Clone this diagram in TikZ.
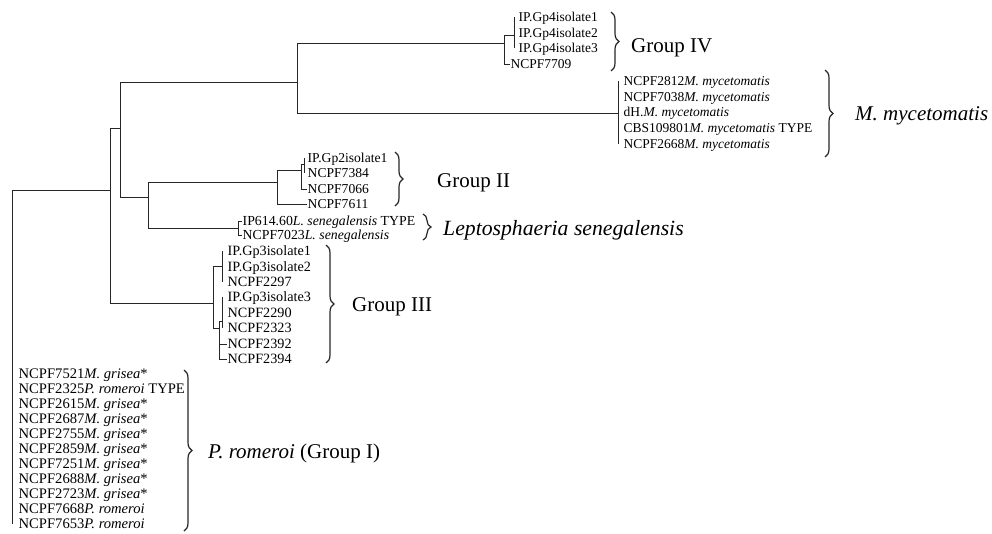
\documentclass[tikz,border=0pt]{standalone}
\usepackage{fontspec}
\setmainfont{Liberation Serif}
\usetikzlibrary{decorations.pathreplacing}
\begin{document}
\begin{tikzpicture}[x=1pt,y=-1pt,
  edge/.style={line width=0.9pt, black!85},
  leaf/.style={anchor=west, inner sep=0.5pt, font=\fontsize{#1}{15}\selectfont, text height=9.4pt, text depth=0pt},
  leaf/.default=14.2,
  grp/.style={anchor=west, inner sep=0pt, font=\fontsize{#1}{24}\selectfont, text height=14pt, text depth=0pt},
  grp/.default=21,
  br/.style={decorate, decoration={brace, amplitude=8pt}, line width=1.2pt, black!85}]
\useasboundingbox (0,0) rectangle (992,533);
% internal nodes
\coordinate (r) at (12,190);
\coordinate (A) at (110,190);
\coordinate (B) at (120,128);
\coordinate (C) at (297,82);
\coordinate (G4) at (504,43);
\coordinate (G4a) at (514,35);
\coordinate (Mm) at (618,113);
\coordinate (D) at (148,197);
\coordinate (E) at (277,182);
\coordinate (F) at (301,170);
\coordinate (F2) at (304,164);
\coordinate (L) at (238,228);
\coordinate (H) at (213,303);
\coordinate (H1) at (222,266);
\coordinate (H2) at (219,328);
\coordinate (H3) at (222,321);
% leaves: Group IV
\node[leaf=13.5] (g4a) at (518,17) {IP.Gp4isolate1};
\node[leaf=13.5] (g4b) at (518,33) {IP.Gp4isolate2};
\node[leaf=13.5] (g4c) at (518,48) {IP.Gp4isolate3};
\node[leaf=13.5] (n7709) at (510,64) {NCPF7709};
% M. mycetomatis
\node[leaf=13.5] (m1) at (623,81) {NCPF2812\textit{M. mycetomatis}};
\node[leaf=13.5] (m2) at (623,97) {NCPF7038\textit{M. mycetomatis}};
\node[leaf=13.5] (m3) at (623,112) {dH.\textit{M. mycetomatis}};
\node[leaf=13.5] (m4) at (623,128) {CBS109801\textit{M. mycetomatis} TYPE};
\node[leaf=13.5] (m5) at (623,144) {NCPF2668\textit{M. mycetomatis}};
% Group II
\node[leaf=13.6] (g2a) at (307,158) {IP.Gp2isolate1};
\node[leaf=13.6] (n7384) at (307,173) {NCPF7384};
\node[leaf=13.6] (n7066) at (307,189) {NCPF7066};
\node[leaf=13.6] (n7611) at (307,204) {NCPF7611};
% Leptosphaeria
\node[leaf=13.8] (l1) at (242,221) {IP614.60\textit{L. senegalensis} TYPE};
\node[leaf=13.8] (l2) at (242,235) {NCPF7023\textit{L. senegalensis}};
% Group III
\node[leaf] (g3a) at (227,251) {IP.Gp3isolate1};
\node[leaf] (g3b) at (227,267) {IP.Gp3isolate2};
\node[leaf] (n2297) at (227,282) {NCPF2297};
\node[leaf] (g3c) at (227,297) {IP.Gp3isolate3};
\node[leaf] (n2290) at (227,313) {NCPF2290};
\node[leaf] (n2323) at (227,328) {NCPF2323};
\node[leaf] (n2392) at (227,344) {NCPF2392};
\node[leaf] (n2394) at (227,359) {NCPF2394};
% Group I
\foreach \t [count=\i] in {{NCPF7521\textit{M. grisea}*},{NCPF2325\textit{P. romeroi} TYPE},{NCPF2615\textit{M. grisea}*},{NCPF2687\textit{M. grisea}*},{NCPF2755\textit{M. grisea}*},{NCPF2859\textit{M. grisea}*},{NCPF7251\textit{M. grisea}*},{NCPF2688\textit{M. grisea}*},{NCPF2723\textit{M. grisea}*},{NCPF7668\textit{P. romeroi}},{NCPF7653\textit{P. romeroi}}}{
  \node[leaf=14.6] (gI\i) at (18,{374+15*(\i-1)}) {\t};
}
\draw[edge] (r) -- (r |- gI11.west);
% edges
\draw[edge] (r) -- (A);
\draw[edge] (A) |- (B);
\draw[edge] (A) |- (H);
\draw[edge] (B) |- (C);
\draw[edge] (B) |- (D);
\draw[edge] (C) |- (G4);
\draw[edge] (C) |- (Mm);
\draw[edge] (G4) |- (G4a);
\draw[edge] (G4) |- (n7709.west);
\draw[edge] (G4a |- g4a.west) -- (G4a |- g4c.west);
\draw[edge] (Mm |- m1.west) -- (Mm |- m5.west);
\draw[edge] (D) |- (E);
\draw[edge] (D) |- (L);
\draw[edge] (E) |- (F);
\draw[edge] (E) |- (n7611.west);
\draw[edge] (F) |- (F2);
\draw[edge] (F) |- (n7066.west);
\draw[edge] (F2 |- g2a.west) -- (F2 |- n7384.west);
\draw[edge] (L) |- (l1.west);
\draw[edge] (L) |- (l2.west);
\draw[edge] (H) |- (H1);
\draw[edge] (H) |- (H2);
\draw[edge] (H1 |- g3a.west) -- (H1 |- n2297.west);
\draw[edge] (H2) |- (H3);
\foreach \n in {n2392,n2394} \draw[edge] (H2) |- (\n.west);
\draw[edge] (H3 |- g3c.west) -- (H3 |- n2323.west);
% braces and group labels
\draw[br] (611,12) -- (611,71);
\node[grp] (lg4) at (631,45) {Group IV};
\draw[br] (825,70) -- (825,157);
\node[grp] (lmm) at (855,113) {\textit{M. mycetomatis}};
\draw[br] (395,152) -- (395,206);
\node[grp] (lg2) at (437,180) {Group II};
\draw[br] (423,214) -- (423,240);
\node[grp=21.7] (llep) at (443,228) {\textit{Leptosphaeria senegalensis}};
\draw[br] (326,245) -- (326,363);
\node[grp] (lg3) at (352,304) {Group III};
\draw[br] (184,370) -- (184,531);
\node[grp] (lg1) at (208,451) {\textit{P. romeroi} (Group I)};
\end{tikzpicture}
\end{document}
